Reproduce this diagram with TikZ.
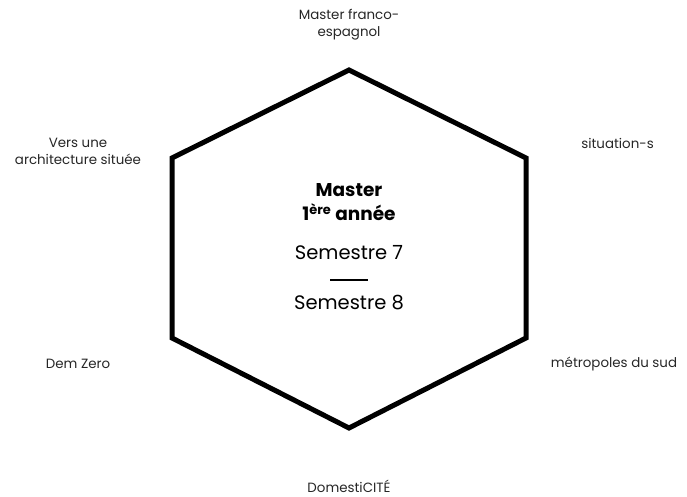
\documentclass[tikz,border=0pt]{standalone}
\usepackage{fontspec}
\setmainfont{Poppins}
\begin{document}
\begin{tikzpicture}[x=1pt,y=-1pt,
  lbl/.style={align=center,font=\fontsize{13.4}{16.8}\selectfont\color{black!85},inner sep=0pt},
  hexline/.style={line width=5pt,line join=miter}]
\useasboundingbox (0,0) rectangle (687,497);
\coordinate (t) at (349,70);
\coordinate (ur) at (526,158);
\coordinate (lr) at (526,338);
\coordinate (b) at (349,428);
\coordinate (ll) at (172,338);
\coordinate (ul) at (172,158);
\draw[hexline] (t) -- (ur) -- (lr) -- (b) -- (ll) -- (ul) -- cycle;
\node[lbl] (n1) at (349,25) {Master franco-\\espagnol};
\node[lbl] (n2) at (78,151) {Vers une\\architecture située};
\node[lbl] (n3) at (617.5,143) {situation-s};
\node[lbl] (n4) at (78,364) {Dem Zero};
\node[lbl] (n5) at (614,364) {métropoles du sud};
\node[lbl] (n6) at (349,486) {DomestiCITÉ};
\node[align=center,inner sep=0pt,font=\fontsize{18.5}{24}\selectfont\bfseries] (m) at (349,202) {Master\\1\textsuperscript{ère} année};
\node[inner sep=0pt,font=\fontsize{19.5}{22}\selectfont] (s7) at (349,253) {Semestre 7};
\node[inner sep=0pt,font=\fontsize{19.5}{22}\selectfont] (s8) at (349,303) {Semestre 8};
\draw[line width=2.2pt] (330,280) -- (368,280);
\end{tikzpicture}
\end{document}
